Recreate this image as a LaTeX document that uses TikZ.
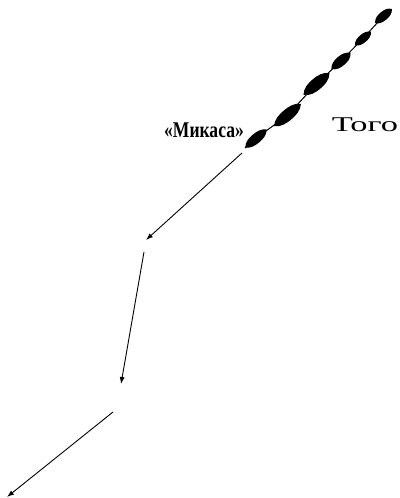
\documentclass[tikz,border=0pt]{standalone}
\usepackage{fontspec}
\setmainfont{Liberation Serif}
\usetikzlibrary{arrows.meta}
\newcommand\shipshape[4]{% name, x/y, half length, half width
  \coordinate (#1) at (#2);
  \fill[shift={(#2)},rotate=40]
    (-#3,0) .. controls (-0.75*#3,0.85*#4) and (-0.35*#3,#4) .. (0,#4)
    .. controls (0.35*#3,#4) and (0.75*#3,0.85*#4) .. (#3,0)
    .. controls (0.75*#3,-0.85*#4) and (0.35*#3,-#4) .. (0,-#4)
    .. controls (-0.35*#3,-#4) and (-0.75*#3,-0.85*#4) .. cycle;}
\begin{document}
\begin{tikzpicture}[x=1pt,y=1pt,
  course/.style={line width=0.9pt,-{Latex[length=7pt,width=5pt]}},
  lbl/.style={inner sep=0pt,anchor=base}]
\useasboundingbox (0,-498) rectangle (399,0);
% ships of the column
\shipshape{s1}{383.5,-16}{11}{4.5}
\shipshape{s2}{363,-38.5}{10.5}{4.2}
\shipshape{s3}{341,-61}{12.5}{5}
\shipshape{s4}{316.5,-84}{17}{6}
\shipshape{s5}{287.5,-115}{17.5}{5.8}
\shipshape{s6}{256,-138.5}{14}{5}
\coordinate (lt) at (389,-10);
\coordinate (lb) at (245,-148);
\draw[line width=1pt] (lb) -- (s6) -- (s5) -- (s4) -- (s3) -- (s2) -- (s1) -- (lt);
% labels
\node[lbl] (mikasa) at (204,-137) {\scalebox{0.78}[1]{\fontsize{22.5pt}{26pt}\selectfont\bfseries «Микаса»}};
\node[lbl] (togo) at (365,-131.7) {\scalebox{1.64}[1]{\fontsize{21pt}{24pt}\selectfont Того}};
% course arrows
\coordinate (a1s) at (242,-153);
\coordinate (a1e) at (146,-240);
\coordinate (a2s) at (144,-252);
\coordinate (a2e) at (121,-384);
\coordinate (a3s) at (113,-412);
\coordinate (a3e) at (7,-497);
\draw[course] (a1s) -- (a1e);
\draw[course] (a2s) -- (a2e);
\draw[course] (a3s) -- (a3e);
\end{tikzpicture}
\end{document}
